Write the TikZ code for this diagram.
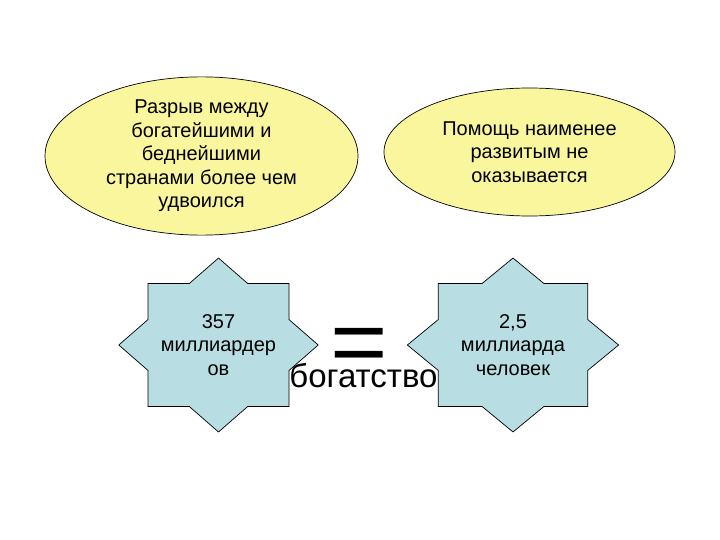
\documentclass[tikz,border=0pt]{standalone}
\usepackage{fontspec}
\setmainfont{Liberation Sans}
\usepackage{graphicx}
\usepackage{tikz}
\usetikzlibrary{shapes.geometric}

\definecolor{ovalyellow}{RGB}{250,246,158}
\definecolor{starblue}{RGB}{184,222,227}

\tikzset{
  oval/.style={ellipse, draw=black, line width=0.7pt, fill=ovalyellow, inner sep=0pt,
    align=center, font=\fontsize{20}{23.5}\selectfont},
  starshape/.style={draw=black, line width=0.7pt, fill=starblue, line join=miter},
  startext/.style={align=center, font=\fontsize{20}{23.5}\selectfont}
}

\begin{document}
\begin{tikzpicture}[x=1pt,y=-1pt]
  \useasboundingbox (0,0) rectangle (720,540);

  \node[oval, minimum width=313pt, minimum height=124pt] (gap) at (201.5,156)
    {Разрыв между\\богатейшими и\\беднейшими\\странами более чем\\удвоился};
  \node[oval, minimum width=291pt, minimum height=128pt] (aid) at (529.5,152)
    {Помощь наименее\\развитым не\\оказывается};

  % eight-pointed stars
  \foreach \cx/\hw in {218.5/70.5, 513/74.7}{
    \begin{scope}[shift={(\cx,345)},xscale=\hw,yscale=61.5]
      \draw[starshape] (0,-1.414) -- (0.414,-1) -- (1,-1) -- (1,-0.414) -- (1.414,0)
        -- (1,0.414) -- (1,1) -- (0.414,1) -- (0,1.414) -- (-0.414,1) -- (-1,1)
        -- (-1,0.414) -- (-1.414,0) -- (-1,-0.414) -- (-1,-1) -- (-0.414,-1) -- cycle;
    \end{scope}
  }

  \node[startext] (rich) at (218.5,345) {357\\миллиардер\\ов};
  \node[startext] (people) at (513,345) {2,5\\миллиарда\\человек};

  \node[font=\fontsize{92}{92}\selectfont, inner sep=0pt, anchor=base] (equals) at (359.5,373)
    {\scalebox{1.07}[1]{=}};
  \node[font=\fontsize{33}{33}\selectfont, inner sep=0pt, anchor=base] (wealth) at (363.5,387) {богатство};
\end{tikzpicture}
\end{document}
